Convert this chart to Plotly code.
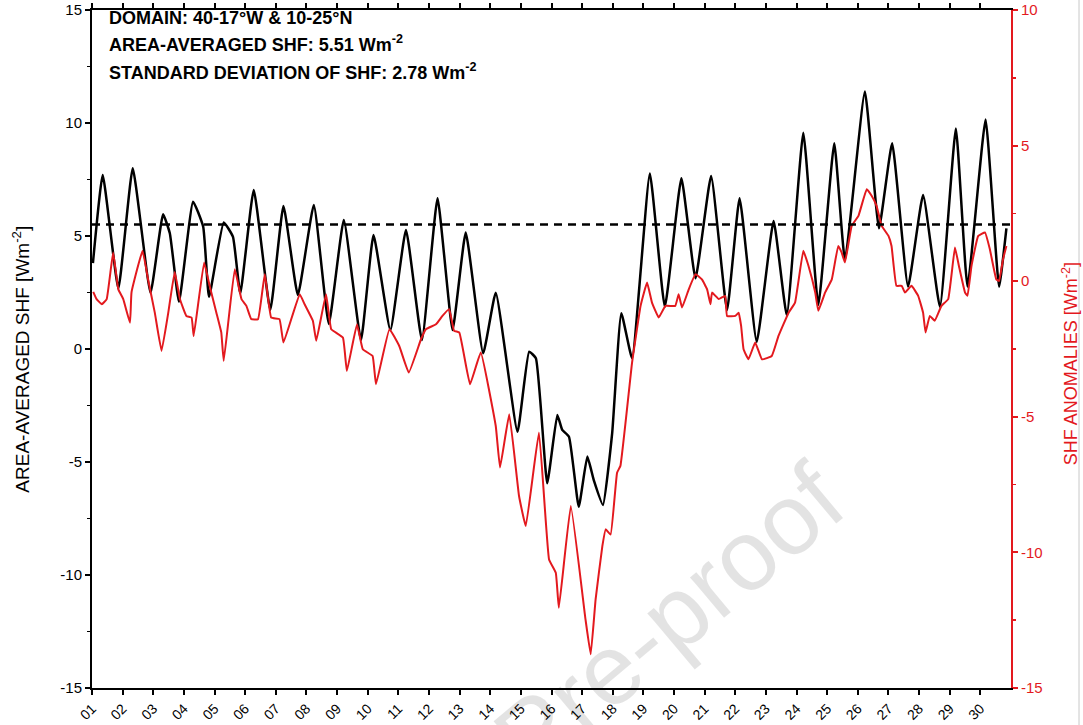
import plotly.graph_objects as go

# ---------------- data ----------------
tick_days = [1, 2, 3, 4, 5, 6, 7, 8, 9, 10, 11, 12, 13, 14, 15,
             16, 17, 18, 19, 20, 21, 22, 23, 24, 25, 26, 27, 28, 29, 30]
tick_labels = ["01", "02", "03", "04", "05", "06", "07", "08", "09", "10",
               "11", "12", "13", "14", "15", "16", "17", "18", "19", "20",
               "21", "22", "23", "24", "25", "26", "27", "28", "29", "30"]

left_ticks = [-15, -10, -5, 0, 5, 10, 15]
left_labels = ["-15", "-10", "-5", "0", "5", "10", "15"]
right_ticks = [-15, -10, -5, 0, 5, 10]
right_labels = ["-15", "-10", "-5", "0", "5", "10"]

# area-averaged SHF (left axis), time in days
shf_day = [1.03, 1.35, 1.86, 2.33, 2.91, 3.32, 3.54, 3.84, 4.30, 4.63, 4.82, 5.30, 5.60, 5.84,
           6.28, 6.82, 7.25, 7.72, 8.24, 8.73, 9.22, 9.78, 10.19, 10.74, 11.25, 11.77, 12.28,
           12.77, 13.20, 13.77, 14.18, 14.89, 15.27, 15.49, 15.86, 16.19, 16.35, 16.57, 16.89,
           17.17, 17.38, 17.68, 17.98, 18.28, 18.63, 19.21, 19.70, 20.24, 20.70, 21.21, 21.73,
           22.14, 22.70, 23.25, 23.68, 24.22, 24.71, 25.23, 25.58, 26.23, 26.69, 27.12, 27.64,
           28.13, 28.68, 29.20, 29.58, 30.17, 30.61, 30.85]
shf_val = [3.8, 7.70, 2.68, 8.0, 2.49, 5.96, 5.12, 2.09, 6.52, 5.41, 2.31, 5.6, 4.97, 2.46,
           7.04, 1.73, 6.33, 2.39, 6.37, 1.11, 5.71, 0.40, 5.04, 0.84, 5.27, 0.40, 6.67,
           0.84, 5.15, -0.19, 2.49, -3.66, -0.12, -0.41, -5.94, -2.92, -3.58, -3.88, -6.98,
           -4.76, -5.80, -6.90, -3.73, 1.58, -0.41, 7.77, 1.87, 7.55, 3.13, 7.65, 1.73,
           6.67, 0.32, 5.66, 1.50, 9.57, 1.95, 9.10, 3.94, 11.39, 5.34, 9.10, 2.76,
           6.81, 1.87, 9.76, 2.76, 10.16, 2.76, 5.34]
shf_mean = 5.51

# SHF anomalies (right axis)
anom_day = [1.04, 1.15, 1.32, 1.48, 1.69, 1.86, 2.02, 2.24, 2.29, 2.65, 2.83, 3.05, 3.27, 3.49,
            3.70, 3.87, 4.08, 4.25, 4.32, 4.66, 4.84, 5.06, 5.22, 5.30, 5.66, 5.88, 6.04, 6.20,
            6.42, 6.64, 6.85, 7.12, 7.25, 7.78, 7.94, 8.21, 8.32, 8.64, 8.81, 9.19, 9.32, 9.65,
            9.84, 10.16, 10.27, 10.71, 11.03, 11.34, 11.74, 11.90, 12.23, 12.44, 12.66, 12.82,
            12.99, 13.34, 13.69, 14.18, 14.32, 14.62, 14.94, 15.16, 15.59, 15.92, 16.14, 16.24,
            16.63, 17.11, 17.28, 17.44, 17.66, 17.77, 17.93, 18.14, 18.25, 18.63, 18.91, 19.12,
            19.28, 19.50, 19.72, 20.04, 20.15, 20.26, 20.48, 20.70, 20.91, 21.08, 21.19, 21.24,
            21.46, 21.67, 21.73, 22.00, 22.11, 22.19, 22.27, 22.43, 22.65, 22.87, 23.19, 23.41,
            23.74, 23.95, 24.22, 24.39, 24.61, 24.71, 24.93, 25.15, 25.36, 25.47, 25.58, 25.80,
            26.02, 26.29, 26.45, 26.61, 26.78, 27.00, 27.10, 27.26, 27.43, 27.54, 27.75, 27.97,
            28.13, 28.21, 28.35, 28.51, 28.73, 28.95, 29.17, 29.30, 29.50, 29.58, 29.71, 29.93,
            30.15, 30.31, 30.52, 30.61, 30.74, 30.85]
anom_val = [-0.39, -0.66, -0.85, -0.66, 1.06, -0.30, -0.66, -1.53, -0.41, 1.12, 0.07, -1.16, -2.57, -1.16,
            0.34, -0.66, -1.28, -1.34, -2.02, 0.69, -0.17, -1.16, -1.89, -2.94, 0.44, -0.66, -0.91, -1.40,
            -1.40, 0.26, -1.34, -1.40, -2.26, -0.48, -0.85, -1.46, -2.20, -0.48, -1.77, -2.08, -3.31, -1.59,
            -2.51, -2.76, -3.80, -1.77, -2.39, -3.37, -2.14, -1.77, -1.59, -1.28, -1.03, -1.83,
            -1.89, -3.80, -2.63, -5.34, -6.87, -4.91, -7.92, -9.03, -5.58, -10.26, -10.75, -12.04,
            -8.29, -12.47, -13.76, -11.73, -9.77, -9.15, -9.34, -7.06, -6.81, -3.0, -0.9, -0.05,
            -0.79, -1.34, -0.91, -0.91, -0.48, -0.97, -0.30, 0.26, 0.07, -0.30, -0.85, -0.42,
            -0.66, -0.54, -1.28, -1.28, -1.16, -1.65, -2.51, -2.88, -2.26, -2.88, -2.76, -2.02,
            -1.16, -0.79, 1.12, 0.56, -0.42, -1.09, -0.42, 0.07, 1.30, 1.06, 0.69, 2.04,
            2.41, 3.39, 3.15, 2.78, 2.04, 1.67, 1.30, -0.17, -0.17, -0.42, -0.17, -0.54,
            -1.16, -1.89, -1.28, -1.46, -0.91, -0.66, 1.24, 0.56, -0.42, -0.54, 0.56, 1.67,
            1.80, 1.18, 0.07, 0.01, 0.81, 1.30]

RED = "#e3191e"
FONT = "Liberation Sans"

fig = go.Figure()

fig.add_trace(go.Scatter(
    x=anom_day, y=anom_val, yaxis="y2", mode="lines",
    line=dict(color=RED, width=2, shape="spline", smoothing=0.3),
    showlegend=False, hoverinfo="skip"))

fig.add_trace(go.Scatter(
    x=shf_day, y=shf_val, yaxis="y", mode="lines",
    line=dict(color="black", width=2.5, shape="spline", smoothing=0.4),
    showlegend=False, hoverinfo="skip"))

fig.add_shape(type="line", xref="paper", x0=0, x1=1, yref="y", y0=shf_mean, y1=shf_mean,
              line=dict(color="black", width=2.5, dash="8px,6px"), layer="above")

# watermark (translucent so marks beneath stay visible)
fig.add_annotation(text="Journal Pre-proof", xref="paper", yref="paper",
                   x=0.479, y=-0.066, xanchor="center", yanchor="middle",
                   showarrow=False, textangle=-40,
                   font=dict(family=FONT, size=100, color="rgba(0,0,0,0.11)"))

# page edge line
fig.add_shape(type="line", xref="paper", yref="paper", x0=1.0740, x1=1.0740, y0=-0.06, y1=1.02,
              line=dict(color="#c8c8c8", width=1))

# header text
hdr = [("DOMAIN: 40-17°W & 10-25°N", 0.9875),
       ("AREA-AVERAGED SHF: 5.51 Wm<sup>-2</sup>", 0.950),
       ("STANDARD DEVIATION OF SHF: 2.78 Wm<sup>-2</sup>", 0.910)]
for txt, yy in hdr:
    fig.add_annotation(text="<b>" + txt + "</b>", xref="paper", yref="paper", x=0.0163, y=yy,
                       xanchor="left", yanchor="middle", showarrow=False,
                       font=dict(family=FONT, size=18, color="black"))

# axis titles
fig.add_annotation(text="AREA-AVERAGED SHF [Wm<sup>-2</sup>]", xref="paper", yref="paper",
                   x=-0.0767, y=0.485, textangle=-90, showarrow=False, xanchor="center", yanchor="middle",
                   font=dict(family=FONT, size=19, color="black"))
fig.add_annotation(text="SHF ANOMALIES [Wm<sup>-2</sup>]", xref="paper", yref="paper",
                   x=1.0642, y=0.479, textangle=-90, showarrow=False, xanchor="center", yanchor="middle",
                   font=dict(family=FONT, size=18, color=RED))

fig.update_layout(
    width=1083, height=725,
    margin=dict(l=92, r=72, t=10, b=37),
    paper_bgcolor="white", plot_bgcolor="white",
    font=dict(family=FONT, size=15, color="black"),
    xaxis=dict(range=[1, 31], tickmode="array", tickvals=tick_days, ticktext=tick_labels,
               tickangle=-45, ticks="outside", ticklen=5, tickwidth=2, tickcolor="black",
               showline=True, linewidth=2, linecolor="black", mirror="ticks",
               showgrid=False, zeroline=False, automargin=False, ticklabeloverflow="allow",
               tickfont=dict(family=FONT, size=14, color="black")),
    yaxis=dict(range=[-15, 15], tickmode="array", tickvals=left_ticks, ticktext=left_labels,
               ticks="outside", ticklen=5, tickwidth=2, tickcolor="black",
               minor=dict(dtick=2.5, tick0=-15, ticks="outside", ticklen=3, tickwidth=1.5,
                          tickcolor="black", showgrid=False),
               showline=True, linewidth=2, linecolor="black", mirror=False,
               showgrid=False, zeroline=False, automargin=False, ticklabeloverflow="allow",
               tickfont=dict(family=FONT, size=15, color="black")),
    yaxis2=dict(range=[-15, 10], overlaying="y", side="right", tickmode="array",
                tickvals=right_ticks, ticktext=right_labels,
                ticks="outside", ticklen=5, tickwidth=2, tickcolor=RED,
                minor=dict(dtick=2.5, tick0=-15, ticks="outside", ticklen=3, tickwidth=1.5,
                           tickcolor=RED, showgrid=False),
                showline=True, linewidth=2, linecolor=RED,
                showgrid=False, zeroline=False, automargin=False, ticklabeloverflow="allow",
                tickfont=dict(family=FONT, size=15, color=RED)),
)

fig.write_html("out.html", config={"displayModeBar": False, "staticPlot": True},
               post_script="document.body.style.margin='0px';document.body.style.overflow='hidden';")
